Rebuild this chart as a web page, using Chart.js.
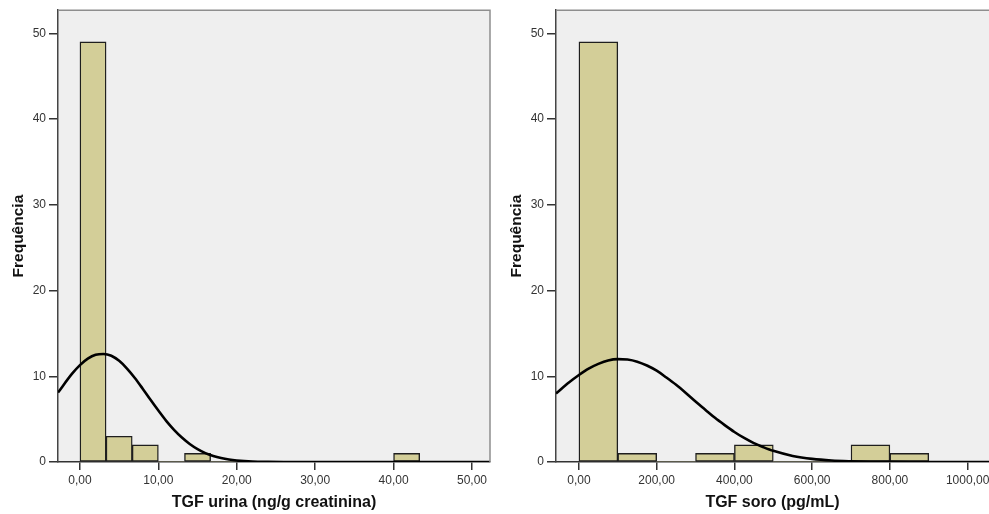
<!DOCTYPE html>
<html>
<head>
<meta charset="utf-8">
<script src="https://cdn.jsdelivr.net/npm/chart.js@4/dist/chart.umd.min.js"></script>
<style>
    html, body { margin: 0; padding: 0; background: #fff; overflow: hidden; }
    canvas { position: absolute; top: 0; }
    #urina-chart { left: 0; }
    #soro-chart { left: 498px; }
</style>
</head>
<body>
<canvas id="urina-chart" width="495" height="514"></canvas>
<canvas id="soro-chart" width="495" height="514"></canvas>
<script>
// histogram counts per bin
const urinaBinWidth = 10 / 3;
const urinaCounts = [49, 3, 2, 0, 1, 0, 0, 0, 0, 0, 0, 0, 1];
const soroBinWidth = 100;
const soroCounts = [49, 1, 0, 1, 2, 0, 0, 2, 1];

// normal curve, read point by point
const urinaCurveX = [-2.8, -1, 0, 1, 2, 3, 4, 5, 6, 7, 8, 9, 10, 11, 12, 13, 14, 15, 16, 17, 18, 19, 20, 22, 24, 26, 30, 52.3];
const urinaCurveY = [8.1, 10.3, 11.3, 12.05, 12.5, 12.6, 12.4, 11.8, 10.9, 9.8, 8.55, 7.25, 6.0, 4.8, 3.75, 2.85, 2.1, 1.5, 1.03, 0.7, 0.46, 0.29, 0.18, 0.06, 0.02, 0.006, 0, 0];
const soroCurveX = [-59, -25, 0, 25, 50, 75, 100, 125, 150, 175, 200, 225, 250, 275, 300, 325, 350, 375, 400, 425, 450, 475, 500, 550, 600, 650, 700, 750, 800, 850, 900, 1055];
const soroCurveY = [8.0, 9.3, 10.15, 10.9, 11.45, 11.85, 12.0, 11.95, 11.7, 11.25, 10.65, 9.85, 9.0, 8.05, 7.05, 6.1, 5.15, 4.3, 3.5, 2.8, 2.2, 1.72, 1.3, 0.71, 0.36, 0.17, 0.08, 0.03, 0.012, 0.004, 0.001, 0];

const urinaTicks = [0, 10, 20, 30, 40, 50];
const soroTicks = [0, 200, 400, 600, 800, 1000];
const freqTicks = [0, 10, 20, 30, 40, 50];

const BAR_FILL = '#d3ce98';
const PLOT_BG = '#efefef';
const FONT = '"Liberation Sans", Arial, sans-serif';

// paints the grey plot background and its frame
const plotFrame = {
    id: 'plotFrame',
    beforeDraw(chart) {
        const a = chart.chartArea;
        const ctx = chart.ctx;
        ctx.save();
        ctx.fillStyle = PLOT_BG;
        ctx.fillRect(a.left, a.top, a.right - a.left, a.bottom - a.top);
        ctx.restore();
    },
    afterDraw(chart, args, opts) {
        const a = chart.chartArea;
        const ctx = chart.ctx;
        ctx.save();
        ctx.strokeStyle = '#8e8e8e';
        ctx.lineWidth = 1.5;
        ctx.beginPath();
        ctx.moveTo(a.left, a.top);
        ctx.lineTo(a.right, a.top);
        if (opts.rightEdge) {
            ctx.lineTo(a.right, a.bottom);
        }
        ctx.stroke();
        ctx.restore();
    }
};

function commaLabel(v) {
    return v.toFixed(2).replace('.', ',');
}

function buildHistogram(canvasId, counts, binWidth, curveX, curveY, xTicks, xMin, xMax, title, padRight, rightEdge) {
    const bars = counts.map((c, i) => ({ x: (i + 0.5) * binWidth, y: c }));
    const curve = curveX.map((x, i) => ({ x: x, y: curveY[i] }));
    const ctx = document.getElementById(canvasId).getContext('2d');
    return new Chart(ctx, {
        type: 'bar',
        data: {
            datasets: [{
                type: 'line',
                data: curve,
                borderColor: '#000',
                borderWidth: 2.6,
                pointRadius: 0,
                tension: 0.4,
                cubicInterpolationMode: 'monotone',
                order: 0,
            }, {
                type: 'bar',
                data: bars,
                backgroundColor: BAR_FILL,
                borderColor: '#1e1e1e',
                borderWidth: c => (c.raw && c.raw.y > 0 ? 1.4 : 0),
                borderSkipped: false,
                barPercentage: 1,
                categoryPercentage: 1,
                order: 1,
            }],
        },
        options: {
            responsive: false,
            animation: false,
            layout: { padding: { top: 10, right: padRight, left: 0, bottom: 0 } },
            plugins: {
                legend: { display: false },
                tooltip: { enabled: false },
                plotFrame: { rightEdge: rightEdge },
            },
            scales: {
                x: {
                    type: 'linear',
                    min: xMin,
                    max: xMax,
                    offset: false,
                    afterFit: s => { s.height = 52; },
                    afterBuildTicks: s => { s.ticks = xTicks.map(v => ({ value: v })); },
                    border: { display: true, color: '#333', width: 1.5 },
                    grid: { display: true, offset: false, drawOnChartArea: false, drawTicks: true, tickLength: 8, color: '#333', lineWidth: 1.5 },
                    ticks: {
                        includeBounds: false,
                        maxRotation: 0,
                        autoSkip: false,
                        padding: 3,
                        color: '#333',
                        font: { family: FONT, size: 12 },
                        callback: v => commaLabel(v),
                    },
                    title: {
                        display: true,
                        text: title,
                        color: '#111',
                        padding: { top: 4, bottom: 1.5 },
                        font: { family: FONT, size: 16, weight: 'bold' },
                    },
                },
                y: {
                    min: 0,
                    max: 52.7,
                    afterFit: s => { s.width = 58; },
                    afterBuildTicks: s => { s.ticks = freqTicks.map(v => ({ value: v })); },
                    border: { display: true, color: '#444', width: 1.5 },
                    grid: { display: true, drawOnChartArea: false, drawTicks: true, tickLength: 9, color: '#333', lineWidth: 1.5 },
                    ticks: {
                        includeBounds: false,
                        padding: 3,
                        color: '#333',
                        font: { family: FONT, size: 12 },
                    },
                    title: {
                        display: true,
                        text: 'Frequência',
                        color: '#111',
                        padding: { top: 9, bottom: 0 },
                        font: { family: FONT, size: 15.5, weight: 'bold' },
                    },
                },
            },
        },
        plugins: [plotFrame],
    });
}

buildHistogram('urina-chart', urinaCounts, urinaBinWidth, urinaCurveX, urinaCurveY, urinaTicks, -2.8, 52.3, 'TGF urina (ng/g creatinina)', 5, true);
buildHistogram('soro-chart', soroCounts, soroBinWidth, soroCurveX, soroCurveY, soroTicks, -59, 1055, 'TGF soro (pg/mL)', 4, false);
</script>
</body>
</html>
